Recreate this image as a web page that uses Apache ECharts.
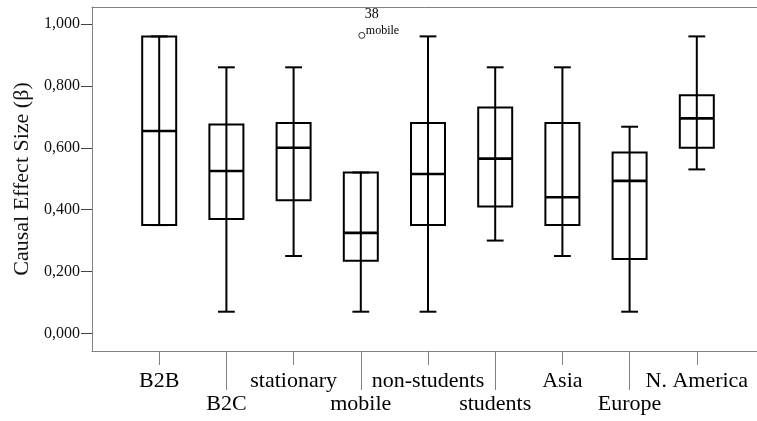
<!DOCTYPE html>
<html>
<head>
<meta charset="utf-8">
<script src="https://cdn.jsdelivr.net/npm/echarts@6/dist/echarts.min.js"></script>
<style>html,body{margin:0;padding:0;background:#fff;}#c{width:757px;height:421px;}</style>
</head>
<body>
<div id="c"></div>
<script>
// Padded category list: empty slots at both ends keep the frame spacing of the original
const categories = ['', 'B2B', 'B2C', 'stationary', 'mobile', 'non-students', 'students', 'Asia', 'Europe', 'N. America', ''];
const groups   = ['B2B', 'B2C', 'stationary', 'mobile', 'non-students', 'students', 'Asia', 'Europe', 'N. America'];
const mins     = [0.35, 0.07, 0.25, 0.07, 0.07, 0.30, 0.25, 0.07, 0.53];
const q1s      = [0.35, 0.37, 0.43, 0.235, 0.35, 0.41, 0.35, 0.24, 0.60];
const medians  = [0.654, 0.525, 0.60, 0.325, 0.515, 0.565, 0.44, 0.493, 0.695];
const q3s      = [0.96, 0.675, 0.68, 0.52, 0.68, 0.73, 0.68, 0.585, 0.77];
const maxs     = [0.96, 0.86, 0.86, 0.52, 0.96, 0.86, 0.86, 0.668, 0.96];
const outlierGroups = ['mobile'];
const outlierVals   = [0.96];
const outlierIds    = ['38'];
const yTicks = [0, 0.2, 0.4, 0.6, 0.8, 1.0];

const FONT = "'Liberation Serif', 'Times New Roman', serif";
const FRAME = '#808080';

const boxData = groups.map((g, i) => [categories.indexOf(g), mins[i], q1s[i], medians[i], q3s[i], maxs[i]]);
const outData = outlierGroups.map((g, i) => [categories.indexOf(g), outlierVals[i]]);

const chart = echarts.init(document.getElementById('c'), null, {renderer: 'canvas'});

function renderBox(params, api) {
  const x = api.value(0);
  const step = api.coord([2, 0])[0] - api.coord([1, 0])[0];
  const hb = step * 0.253, hc = step * 0.125;
  const pMin = api.coord([x, api.value(1)]);
  const pQ1 = api.coord([x, api.value(2)]);
  const pMed = api.coord([x, api.value(3)]);
  const pQ3 = api.coord([x, api.value(4)]);
  const pMax = api.coord([x, api.value(5)]);
  const cx = pMed[0];
  const st = {stroke: '#000', lineWidth: 2, fill: 'none'};
  return {
    type: 'group',
    children: [
      {type: 'rect', shape: {x: cx - hb, y: pQ3[1], width: 2 * hb, height: pQ1[1] - pQ3[1]}, style: st},
      {type: 'line', shape: {x1: cx, y1: pMin[1], x2: cx, y2: pMax[1]}, style: st},
      {type: 'line', shape: {x1: cx - hc, y1: pMin[1], x2: cx + hc, y2: pMin[1]}, style: st},
      {type: 'line', shape: {x1: cx - hc, y1: pMax[1], x2: cx + hc, y2: pMax[1]}, style: st},
      {type: 'line', shape: {x1: cx - hb, y1: pMed[1], x2: cx + hb, y2: pMed[1]}, style: {stroke: '#000', lineWidth: 2.6}}
    ]
  };
}

function renderOut(params, api) {
  const p = api.coord([api.value(0), api.value(1)]);
  const i = params.dataIndex;
  return {
    type: 'group',
    children: [
      {type: 'circle', shape: {cx: p[0] + 1, cy: p[1] - 1, r: 3}, style: {stroke: '#333', lineWidth: 1, fill: '#fff'}},
      {type: 'text', x: p[0] + 11, y: p[1] - 22, style: {text: outlierIds[i], font: '14px ' + FONT, fill: '#000', align: 'center', verticalAlign: 'middle'}},
      {type: 'text', x: p[0] + 5, y: p[1] - 6, style: {text: outlierGroups[i], font: '12px ' + FONT, fill: '#000', align: 'left', verticalAlign: 'middle'}}
    ]
  };
}

const option = {
  backgroundColor: '#fff',
  animation: false,
  grid: {left: 92, top: 7, bottom: 70, right: -7, outerBoundsMode: 'none', containLabel: false},
  xAxis: [
    {
      type: 'category', data: categories, boundaryGap: false, position: 'bottom',
      axisLine: {show: true, onZero: false, lineStyle: {color: FRAME, width: 1}},
      axisTick: {show: true, length: 14, interval: (i) => i % 2 === 1, lineStyle: {color: FRAME}},
      axisLabel: {interval: (i) => i % 2 === 1, margin: 19, fontFamily: FONT, fontSize: 22, color: '#000'},
      splitLine: {show: false}
    },
    {
      type: 'category', data: categories, boundaryGap: false, position: 'bottom', gridIndex: 0,
      axisLine: {show: false, onZero: false},
      axisTick: {show: true, length: 39, interval: (i) => i % 2 === 0 && i > 0 && i < 10, lineStyle: {color: FRAME}},
      axisLabel: {interval: (i) => i % 2 === 0 && i > 0 && i < 10, margin: 42, fontFamily: FONT, fontSize: 22, color: '#000'},
      splitLine: {show: false}
    },
    {
      type: 'category', data: categories, boundaryGap: false, position: 'top', gridIndex: 0,
      axisLine: {show: true, onZero: false, lineStyle: {color: FRAME, width: 1}},
      axisTick: {show: false}, axisLabel: {show: false}, splitLine: {show: false}
    }
  ],
  yAxis: {
    type: 'value', min: -0.057, max: 1.055,
    name: 'Causal Effect Size (β)', nameLocation: 'middle', nameGap: 56,
    nameTextStyle: {fontFamily: FONT, fontSize: 22, color: '#111'},
    axisLine: {show: true, onZero: false, lineStyle: {color: FRAME, width: 1}},
    axisTick: {show: true, length: 11, customValues: yTicks, lineStyle: {color: '#444'}},
    axisLabel: {customValues: yTicks, margin: 12, fontFamily: FONT, fontSize: 16, color: '#111',
      formatter: (v) => v.toFixed(3).replace('.', ',')},
    splitLine: {show: false}
  },
  series: [
    {type: 'custom', coordinateSystem: 'cartesian2d', xAxisIndex: 0, yAxisIndex: 0,
      encode: {x: 0, y: [1, 2, 3, 4, 5]}, data: boxData, renderItem: renderBox, silent: true},
    {type: 'custom', coordinateSystem: 'cartesian2d', xAxisIndex: 0, yAxisIndex: 0,
      encode: {x: 0, y: 1}, data: outData, renderItem: renderOut, silent: true}
  ]
};
chart.setOption(option);
</script>
</body>
</html>
